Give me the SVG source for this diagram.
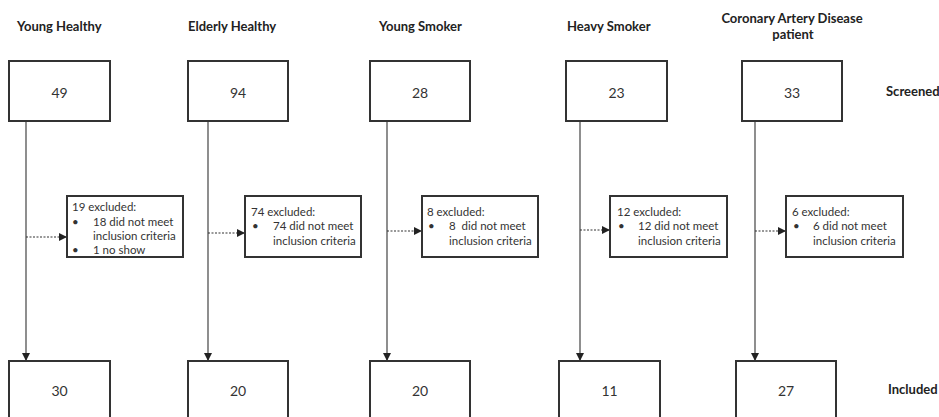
<svg xmlns="http://www.w3.org/2000/svg" width="939" height="417" viewBox="0 0 939 417">
<defs>
<marker id="arr" viewBox="0 0 10 10" refX="10" refY="5" markerWidth="8" markerHeight="8" markerUnits="userSpaceOnUse" orient="auto">
<path d="M0,0 L10,5 L0,10 Z" fill="#222"/>
</marker>
<style>
.box{fill:#fff;stroke:#333;stroke-width:2}
.title{font-family:Lato,"Liberation Sans",sans-serif;font-weight:bold;font-size:13px;fill:#222}
.num{font-family:Lato,"Liberation Sans",sans-serif;font-size:14px;fill:#333;text-anchor:middle;dominant-baseline:central}
.small{font-family:Lato,"Liberation Sans",sans-serif;font-size:11.5px;fill:#333}
.vline{stroke:#444;stroke-width:1.2;fill:none}
.dot{stroke:#333;stroke-width:1.2;stroke-dasharray:2,1.5;fill:none}
</style>
</defs>
<rect width="939" height="417" fill="#fff"/>
<g id="labels">
<text class="title" x="17" y="31">Young Healthy</text>
<text class="title" x="188" y="31">Elderly Healthy</text>
<text class="title" x="379" y="31">Young Smoker</text>
<text class="title" x="567" y="31">Heavy Smoker</text>
<text class="title" x="792" y="23" text-anchor="middle">Coronary Artery Disease</text>
<text class="title" x="793" y="39" text-anchor="middle">patient</text>
<text class="title" x="886" y="96">Screened</text>
<text class="title" x="888" y="394">Included</text>
</g>
<g id="connectors">
<line class="vline" x1="26" y1="121" x2="26" y2="361" marker-end="url(#arr)"/>
<line class="vline" x1="208" y1="121" x2="208" y2="361" marker-end="url(#arr)"/>
<line class="vline" x1="387" y1="121" x2="387" y2="361" marker-end="url(#arr)"/>
<line class="vline" x1="580" y1="121" x2="580" y2="361" marker-end="url(#arr)"/>
<line class="vline" x1="755" y1="121" x2="755" y2="361" marker-end="url(#arr)"/>
<line class="dot" x1="26" y1="237" x2="67" y2="237" marker-end="url(#arr)"/>
<line class="dot" x1="208" y1="233" x2="245" y2="233" marker-end="url(#arr)"/>
<line class="dot" x1="387" y1="231" x2="422" y2="231" marker-end="url(#arr)"/>
<line class="dot" x1="580" y1="230" x2="610" y2="230" marker-end="url(#arr)"/>
<line class="dot" x1="755" y1="231" x2="786" y2="231" marker-end="url(#arr)"/>
</g>
<g id="screened-yh"><rect class="box" x="9" y="61" width="101" height="60"/><text class="num" x="59.5" y="92">49</text></g>
<g id="screened-eh"><rect class="box" x="188" y="61" width="100" height="60"/><text class="num" x="238" y="92">94</text></g>
<g id="screened-ys"><rect class="box" x="370" y="61" width="100" height="60"/><text class="num" x="420" y="92">28</text></g>
<g id="screened-hs"><rect class="box" x="566" y="61" width="101" height="60"/><text class="num" x="616.5" y="92">23</text></g>
<g id="screened-cad"><rect class="box" x="742" y="61" width="100" height="60"/><text class="num" x="792" y="92">33</text></g>
<g id="excluded-yh"><rect class="box" x="67" y="196" width="116" height="61"/>
<text class="small" x="72" y="211">19 excluded:</text>
<text class="small" x="72" y="226">•</text><text class="small" x="93" y="226">18 did not meet</text>
<text class="small" x="93" y="240">inclusion criteria</text>
<text class="small" x="72" y="254">•</text><text class="small" x="93" y="254">1 no show</text></g>
<g id="excluded-eh"><rect class="box" x="245" y="196" width="116" height="61"/>
<text class="small" x="251" y="216">74 excluded:</text>
<text class="small" x="252" y="230">•</text><text class="small" x="273" y="230">74 did not meet</text>
<text class="small" x="273" y="245">inclusion criteria</text></g>
<g id="excluded-ys"><rect class="box" x="422" y="196" width="116" height="61"/>
<text class="small" x="427" y="216">8 excluded:</text>
<text class="small" x="428" y="230">•</text><text class="small" x="449" y="230" xml:space="preserve">8  did not meet</text>
<text class="small" x="449" y="245">inclusion criteria</text></g>
<g id="excluded-hs"><rect class="box" x="610" y="196" width="117" height="61"/>
<text class="small" x="617" y="216">12 excluded:</text>
<text class="small" x="618" y="230">•</text><text class="small" x="638" y="230">12 did not meet</text>
<text class="small" x="638" y="245">inclusion criteria</text></g>
<g id="excluded-cad"><rect class="box" x="786" y="196" width="117" height="61"/>
<text class="small" x="792" y="216">6 excluded:</text>
<text class="small" x="793" y="230">•</text><text class="small" x="813" y="230">6 did not meet</text>
<text class="small" x="813" y="245">inclusion criteria</text></g>
<g id="included-yh"><rect class="box" x="9" y="361" width="101" height="62"/><text class="num" x="59.5" y="390">30</text></g>
<g id="included-eh"><rect class="box" x="188" y="361" width="100" height="62"/><text class="num" x="238" y="390">20</text></g>
<g id="included-ys"><rect class="box" x="370" y="361" width="100" height="62"/><text class="num" x="420" y="390">20</text></g>
<g id="included-hs"><rect class="box" x="559" y="361" width="101" height="62"/><text class="num" x="609.5" y="390">11</text></g>
<g id="included-cad"><rect class="box" x="736" y="361" width="100" height="62"/><text class="num" x="786" y="390">27</text></g>
</svg>
